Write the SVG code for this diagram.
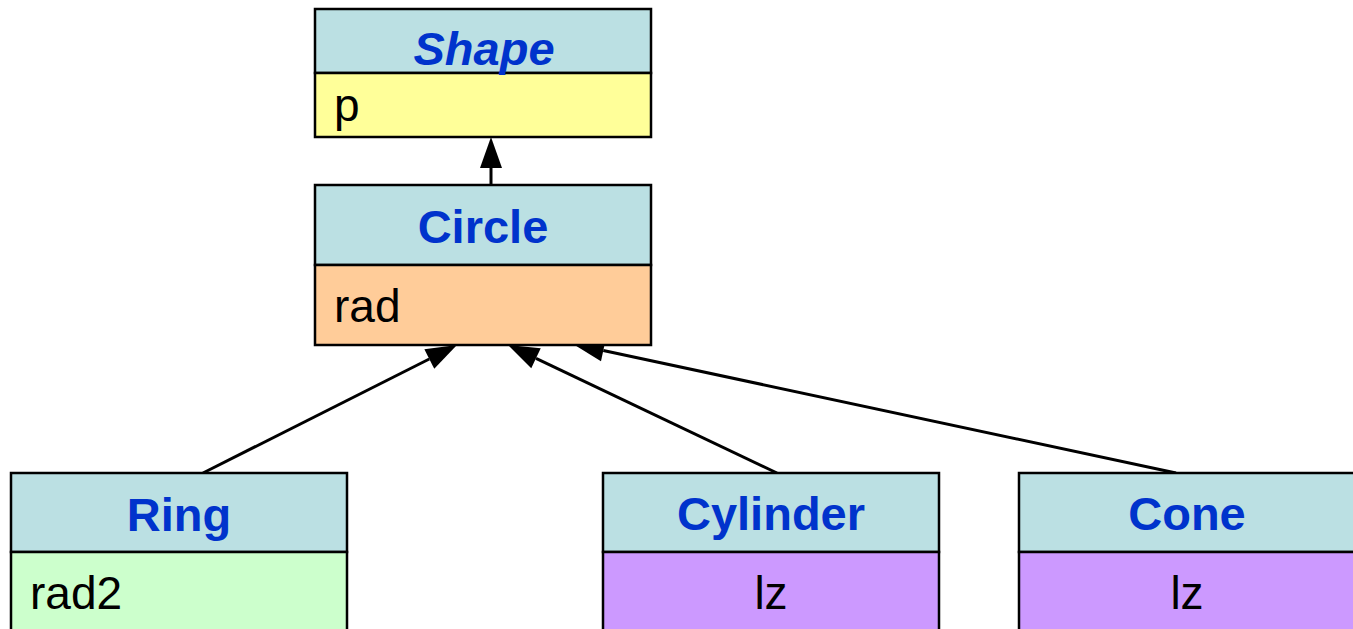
<svg xmlns="http://www.w3.org/2000/svg" width="1353" height="629" viewBox="0 0 1353 629">
<style>
.box{stroke:#000;stroke-width:2.5}
.hd{fill:#BBE0E3}
.title{font-family:"Liberation Sans",Arial,sans-serif;font-weight:bold;font-size:47px;fill:#0033CC;text-anchor:middle}
.attr{font-family:"Liberation Sans",Arial,sans-serif;font-size:46px;fill:#000}
.conn{stroke:#000;stroke-width:3;fill:none;marker-end:url(#ah)}
</style>
<defs>
<marker id="ah" markerUnits="userSpaceOnUse" markerWidth="32" markerHeight="24" refX="0" refY="11" orient="auto" viewBox="0 0 32 24" overflow="visible">
<path d="M0,0 L31,11 L0,22 z" fill="#000"/>
</marker>
</defs>
<rect width="1353" height="629" fill="#fff"/>
<g id="connectors">
<line class="conn" x1="491" y1="185" x2="491" y2="168"/>
<line class="conn" x1="203" y1="473" x2="429.3" y2="359"/>
<line class="conn" x1="777" y1="473" x2="536" y2="358.3"/>
<line class="conn" x1="1176" y1="473" x2="603.3" y2="350.5"/>
</g>
<g id="shape">
<rect class="box hd" x="315" y="9" width="336" height="64"/>
<rect class="box" fill="#FFFF99" x="315" y="73" width="336" height="64"/>
<text class="title" x="484" y="65" font-style="italic">Shape</text>
<text class="attr" x="334" y="121">p</text>
</g>
<g id="circle">
<rect class="box hd" x="315" y="185" width="336" height="80"/>
<rect class="box" fill="#FFCC99" x="315" y="265" width="336" height="80"/>
<text class="title" x="483" y="243">Circle</text>
<text class="attr" x="334" y="322">rad</text>
</g>
<g id="ring">
<rect class="box hd" x="11" y="473" width="336" height="79"/>
<rect class="box" fill="#CCFFCC" x="11" y="552" width="336" height="90"/>
<text class="title" x="179" y="531">Ring</text>
<text class="attr" x="30" y="609">rad2</text>
</g>
<g id="cylinder">
<rect class="box hd" x="603" y="473" width="336" height="79"/>
<rect class="box" fill="#CC99FF" x="603" y="552" width="336" height="90"/>
<text class="title" x="771" y="530">Cylinder</text>
<text class="attr" x="771" y="609" text-anchor="middle">lz</text>
</g>
<g id="cone">
<rect class="box hd" x="1019" y="473" width="336" height="79"/>
<rect class="box" fill="#CC99FF" x="1019" y="552" width="336" height="90"/>
<text class="title" x="1187" y="530">Cone</text>
<text class="attr" x="1187" y="609" text-anchor="middle">lz</text>
</g>
</svg>
